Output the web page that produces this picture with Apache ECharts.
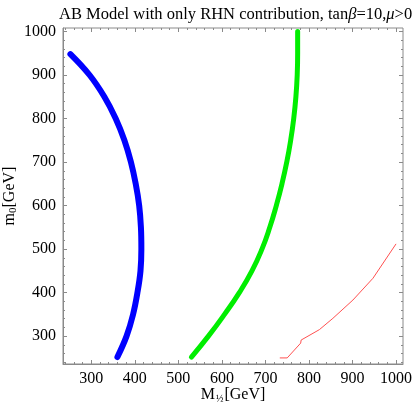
<!DOCTYPE html>
<html>
<head>
<meta charset="utf-8">
<script src="https://cdn.jsdelivr.net/npm/echarts@6/dist/echarts.min.js"></script>
<style>
  html, body { margin: 0; padding: 0; background: #fff; }
  #myChart { width: 415px; height: 415px; }
</style>
</head>
<body>
<div id="myChart"></div>
<script>
// curves: M1/2 [GeV] and m0 [GeV]
var blueM12 = [252, 296, 330, 356, 376, 391, 402, 410, 414, 415, 413, 406, 396, 381, 360];
var blueM0 = [948, 900, 850, 800, 750, 700, 650, 600, 550, 500, 450, 400, 350, 300, 252];
var greenM12 = [530, 569, 606, 640, 669, 692, 710, 725, 738, 749, 758, 765, 770, 773, 774, 774];
var greenM0 = [252, 300, 350, 400, 450, 500, 550, 600, 650, 700, 750, 800, 850, 900, 950, 1000];
var redM12 = [733, 750, 781, 782, 824, 855, 901, 947, 1000];
var redM0 = [250, 250, 284, 291, 315, 341, 383, 433, 512];

var majorTicks = [300, 400, 500, 600, 700, 800, 900, 1000];
var minorTicks = [];
for (var v = 240; v <= 1000; v += 20) minorTicks.push(v);

function pairs(xs, ys) {
    var out = [];
    for (var i = 0; i < xs.length; i++) out.push([xs[i], ys[i]]);
    return out;
}

var chartDom = document.getElementById('myChart');
var myChart = echarts.init(chartDom);
var serif = 'Liberation Serif';
var frame = '#8a8a8a';

function tickAxis(pos, min, max, ticks, len, labels, extra) {
    var a = {
        type: 'value',
        position: pos,
        min: min,
        max: max,
        splitLine: { show: false },
        axisLine: { show: labels, lineStyle: { color: frame, width: 1 } },
        axisTick: {
            show: true,
            inside: true,
            length: len,
            customValues: ticks,
            lineStyle: { color: frame, width: 1 }
        },
        axisLabel: labels ? {
            customValues: majorTicks,
            formatter: function (val) { return String(val); },
            fontFamily: serif,
            fontSize: 16,
            color: '#000',
            margin: 7
        } : { show: false }
    };
    for (var k in extra) a[k] = extra[k];
    return a;
}

var xMin = 235, xMax = 1016, yMin = 236, yMax = 1008;

var option = {
    animation: false,
    title: {
        text: 'AB Model with only RHN contribution, tan{i|β}=10,{i|μ}>0',
        left: 54,
        top: 1,
        textStyle: {
            fontFamily: serif,
            fontSize: 16.5,
            fontWeight: 'normal',
            color: '#000',
            rich: { i: { fontFamily: serif, fontSize: 16.5, fontStyle: 'italic', color: '#000' } }
        }
    },
    grid: {
        left: 63, right: 12, top: 28, bottom: 51,
        outerBoundsMode: 'none',
        containLabel: false,
        show: true, borderColor: frame, borderWidth: 1
    },
    xAxis: [
        tickAxis('bottom', xMin, xMax, majorTicks, 4, true, {
            name: '{a|M}{s|½}{a|[GeV]}',
            nameLocation: 'middle',
            nameGap: 21,
            nameMoveOverlap: false,
            nameTextStyle: {
                rich: {
                    a: { fontFamily: serif, fontSize: 16, color: '#000' },
                    s: { fontFamily: serif, fontSize: 10, color: '#000', padding: [9, 1, 0, 1] }
                }
            }
        }),
        tickAxis('bottom', xMin, xMax, minorTicks, 2, false, {}),
        tickAxis('top', xMin, xMax, majorTicks, 4, false, {}),
        tickAxis('top', xMin, xMax, minorTicks, 2, false, {})
    ],
    yAxis: [
        tickAxis('left', yMin, yMax, majorTicks, 4, true, {
            name: '{a|m}{s|0}{a|[GeV]}',
            nameLocation: 'middle',
            nameGap: 44,
            nameMoveOverlap: false,
            nameRotate: 90,
            nameTextStyle: {
                rich: {
                    a: { fontFamily: serif, fontSize: 16, color: '#000' },
                    s: { fontFamily: serif, fontSize: 11, color: '#000', padding: [7, 0, 0, 0] }
                }
            }
        }),
        tickAxis('left', yMin, yMax, minorTicks, 2, false, {}),
        tickAxis('right', yMin, yMax, majorTicks, 4, false, {}),
        tickAxis('right', yMin, yMax, minorTicks, 2, false, {})
    ],
    series: [
        {
            type: 'line',
            data: pairs(blueM12, blueM0),
            showSymbol: false,
            smooth: 0.4,
            lineStyle: { color: '#0000ff', width: 6, cap: 'round', join: 'round' }
        },
        {
            type: 'line',
            data: pairs(greenM12, greenM0),
            showSymbol: false,
            smooth: 0.5,
            lineStyle: { color: '#00ee00', width: 5, cap: 'round', join: 'round' }
        },
        {
            type: 'line',
            data: pairs(redM12, redM0),
            showSymbol: false,
            lineStyle: { color: '#ff5050', width: 1 }
        }
    ]
};

option && myChart.setOption(option);
</script>
</body>
</html>
